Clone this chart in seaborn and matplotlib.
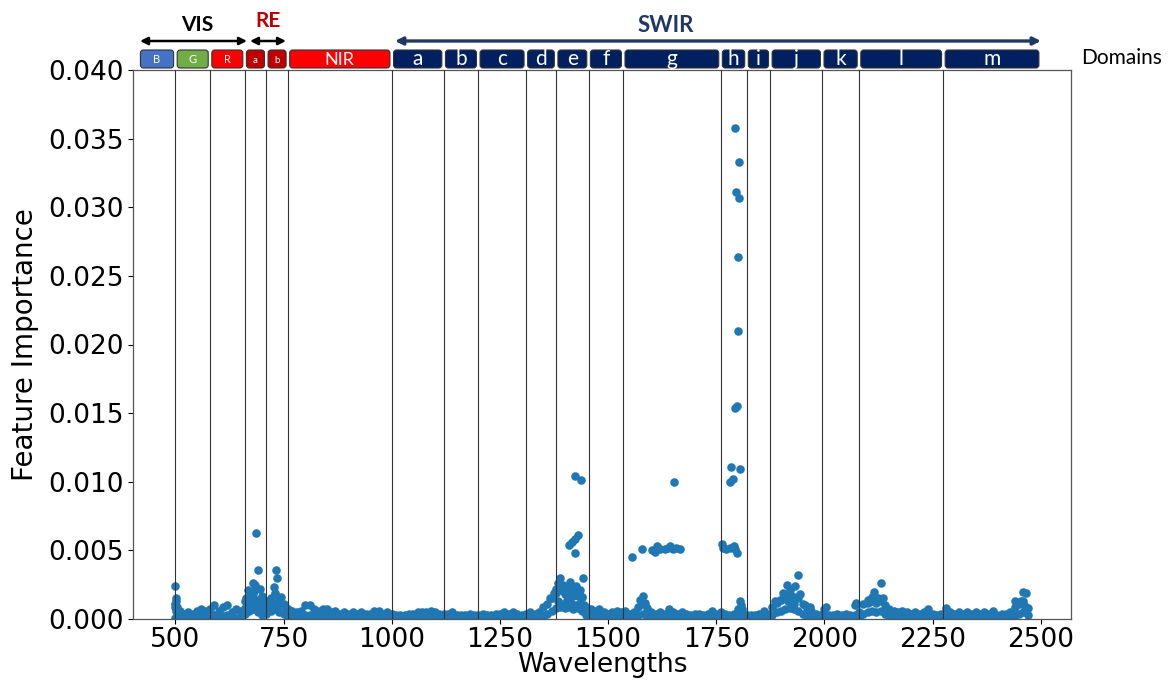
import numpy as np
import pandas as pd
import seaborn as sns
import matplotlib.pyplot as plt
from matplotlib.patches import FancyBboxPatch, FancyArrowPatch
from matplotlib.transforms import IdentityTransform
from matplotlib.ticker import FormatStrFormatter

# dense baseline band, read every 10 nm (top of band and bottom of band)
band_wl = [
    500, 510, 520, 530, 540, 550, 560, 570, 580, 590,
    600, 610, 620, 630, 640, 650, 660, 670, 680, 690,
    700, 710, 720, 730, 740, 750, 760, 770, 780, 790,
    800, 810, 820, 830, 840, 850, 860, 870, 880, 890,
    900, 910, 920, 930, 940, 950, 960, 970, 980, 990,
    1000, 1010, 1020, 1030, 1040, 1050, 1060, 1070, 1080, 1090,
    1100, 1110, 1120, 1130, 1140, 1150, 1160, 1170, 1180, 1190,
    1200, 1210, 1220, 1230, 1240, 1250, 1260, 1270, 1280, 1290,
    1300, 1310, 1320, 1330, 1340, 1350, 1360, 1370, 1380, 1390,
    1400, 1410, 1420, 1430, 1440, 1450, 1460, 1470, 1480, 1490,
    1500, 1510, 1520, 1530, 1540, 1550, 1560, 1570, 1580, 1590,
    1600, 1610, 1620, 1630, 1640, 1650, 1660, 1670, 1680, 1690,
    1700, 1710, 1720, 1730, 1740, 1750, 1760, 1770, 1780, 1790,
    1800, 1810, 1820, 1830, 1840, 1850, 1860, 1870, 1880, 1890,
    1900, 1910, 1920, 1930, 1940, 1950, 1960, 1970, 1980, 1990,
    2000, 2010, 2020, 2030, 2040, 2050, 2060, 2070, 2080, 2090,
    2100, 2110, 2120, 2130, 2140, 2150, 2160, 2170, 2180, 2190,
    2200, 2210, 2220, 2230, 2240, 2250, 2260, 2270, 2280, 2290,
    2300, 2310, 2320, 2330, 2340, 2350, 2360, 2370, 2380, 2390,
    2400, 2410, 2420, 2430, 2440, 2450, 2460, 2470,
]
band_top = [
    0.0009, 0.0006, 0.0004, 0.0005, 0.0004, 0.0006, 0.0007, 0.0006, 0.0007, 0.0010,
    0.0006, 0.0009, 0.0010, 0.0005, 0.0007, 0.0006, 0.0013, 0.0016, 0.0018, 0.0014,
    0.0009, 0.0013, 0.0015, 0.0018, 0.0013, 0.0011, 0.0007, 0.0006, 0.0005, 0.0006,
    0.0010, 0.0010, 0.0007, 0.0006, 0.0007, 0.0007, 0.0005, 0.0006, 0.0004, 0.0005,
    0.0004, 0.0005, 0.0004, 0.0005, 0.0004, 0.0004, 0.0006, 0.0006, 0.0004, 0.0005,
    0.0004, 0.0003, 0.0003, 0.0003, 0.0004, 0.0004, 0.0005, 0.0005, 0.0005, 0.0006,
    0.0005, 0.0004, 0.0004, 0.0004, 0.0005, 0.0003, 0.0003, 0.0003, 0.0004, 0.0003,
    0.0003, 0.0004, 0.0003, 0.0003, 0.0004, 0.0004, 0.0005, 0.0004, 0.0005, 0.0004,
    0.0003, 0.0004, 0.0005, 0.0004, 0.0005, 0.0009, 0.0011, 0.0015, 0.0019, 0.0021,
    0.0018, 0.0020, 0.0017, 0.0019, 0.0016, 0.0009, 0.0007, 0.0006, 0.0007, 0.0005,
    0.0004, 0.0005, 0.0006, 0.0005, 0.0006, 0.0004, 0.0005, 0.0009, 0.0011, 0.0008,
    0.0005, 0.0004, 0.0005, 0.0004, 0.0007, 0.0005, 0.0004, 0.0005, 0.0004, 0.0003,
    0.0004, 0.0004, 0.0003, 0.0004, 0.0006, 0.0004, 0.0005, 0.0004, 0.0003, 0.0004,
    0.0007, 0.0005, 0.0003, 0.0003, 0.0003, 0.0004, 0.0006, 0.0004, 0.0009, 0.0012,
    0.0014, 0.0017, 0.0018, 0.0016, 0.0015, 0.0011, 0.0008, 0.0006, 0.0004, 0.0003,
    0.0007, 0.0003, 0.0003, 0.0004, 0.0003, 0.0004, 0.0003, 0.0010, 0.0005, 0.0011,
    0.0012, 0.0013, 0.0012, 0.0013, 0.0010, 0.0007, 0.0006, 0.0005, 0.0006, 0.0005,
    0.0004, 0.0005, 0.0004, 0.0005, 0.0007, 0.0004, 0.0003, 0.0004, 0.0008, 0.0005,
    0.0004, 0.0005, 0.0004, 0.0005, 0.0004, 0.0005, 0.0004, 0.0005, 0.0004, 0.0006,
    0.0003, 0.0004, 0.0004, 0.0005, 0.0009, 0.0011, 0.0013, 0.0008,
]
band_low = [
    0.0001, 0.0001, 0.0000, 0.0001, 0.0001, 0.0001, 0.0002, 0.0001, 0.0001, 0.0003,
    0.0001, 0.0002, 0.0003, 0.0001, 0.0001, 0.0001, 0.0004, 0.0006, 0.0007, 0.0005,
    0.0003, 0.0004, 0.0006, 0.0007, 0.0005, 0.0004, 0.0002, 0.0001, 0.0001, 0.0001,
    0.0003, 0.0003, 0.0002, 0.0001, 0.0002, 0.0002, 0.0001, 0.0001, 0.0001, 0.0001,
    0.0001, 0.0001, 0.0000, 0.0001, 0.0001, 0.0000, 0.0001, 0.0001, 0.0001, 0.0001,
    0.0001, 0.0000, 0.0001, 0.0000, 0.0001, 0.0001, 0.0001, 0.0001, 0.0001, 0.0001,
    0.0001, 0.0001, 0.0000, 0.0001, 0.0001, 0.0000, 0.0001, 0.0000, 0.0001, 0.0000,
    0.0000, 0.0001, 0.0001, 0.0000, 0.0001, 0.0001, 0.0001, 0.0001, 0.0001, 0.0001,
    0.0000, 0.0001, 0.0001, 0.0001, 0.0001, 0.0002, 0.0004, 0.0006, 0.0008, 0.0009,
    0.0008, 0.0009, 0.0007, 0.0008, 0.0006, 0.0003, 0.0002, 0.0001, 0.0002, 0.0001,
    0.0001, 0.0001, 0.0001, 0.0001, 0.0001, 0.0001, 0.0001, 0.0003, 0.0004, 0.0002,
    0.0001, 0.0001, 0.0001, 0.0001, 0.0002, 0.0001, 0.0001, 0.0001, 0.0001, 0.0000,
    0.0001, 0.0001, 0.0000, 0.0001, 0.0001, 0.0001, 0.0001, 0.0001, 0.0000, 0.0001,
    0.0002, 0.0001, 0.0000, 0.0000, 0.0001, 0.0001, 0.0001, 0.0001, 0.0003, 0.0005,
    0.0006, 0.0007, 0.0008, 0.0007, 0.0006, 0.0004, 0.0002, 0.0001, 0.0001, 0.0000,
    0.0002, 0.0000, 0.0001, 0.0001, 0.0000, 0.0001, 0.0001, 0.0003, 0.0001, 0.0004,
    0.0005, 0.0006, 0.0005, 0.0006, 0.0004, 0.0002, 0.0001, 0.0001, 0.0001, 0.0001,
    0.0001, 0.0001, 0.0001, 0.0001, 0.0002, 0.0001, 0.0000, 0.0001, 0.0002, 0.0001,
    0.0001, 0.0001, 0.0001, 0.0001, 0.0001, 0.0001, 0.0001, 0.0001, 0.0001, 0.0002,
    0.0000, 0.0001, 0.0001, 0.0001, 0.0003, 0.0004, 0.0005, 0.0003,
]

# points standing out above the band
peak_wl = [
    500, 501, 502, 500, 503, 501, 504,
    686, 690, 732, 735, 680, 684, 668, 695, 675, 700, 664, 690, 705,
    727, 730, 745, 740, 725, 715, 660, 672, 678, 685, 737, 755,
    1424, 1437, 1431, 1424, 1417, 1410, 1424, 1389, 1412, 1443,
    1385, 1395, 1405, 1415, 1425, 1435, 1380, 1375, 1400, 1420,
    1430, 1440, 1365, 1385, 1395, 1405, 1415, 1425, 1435, 1445,
    1555, 1578, 1601, 1609, 1613, 1620, 1632, 1638, 1643, 1650,
    1658, 1666, 1652, 1581, 1574, 1585,
    1794, 1803, 1796, 1803, 1801, 1801, 1794, 1798, 1785, 1805,
    1782, 1789, 1763, 1766, 1772, 1782, 1790, 1794, 1798, 1805,
    1807, 1810,
    1939, 1913, 1932, 1921, 1905, 1944, 1897, 1886, 1955, 1967,
    2004, 1925, 1915, 1930,
    2073, 2115, 2131, 2136, 2100, 2110, 2125,
    2460, 2466, 2441, 2455, 2469, 2462,
]
peak_fi = [
    0.0024, 0.0015, 0.0013, 0.0011, 0.0009, 0.0006, 0.0003,
    0.0063, 0.0036, 0.0036, 0.0030, 0.0026, 0.0025, 0.0021, 0.0022, 0.0019, 0.0017, 0.0015, 0.0010, 0.0012,
    0.0023, 0.0019, 0.0016, 0.0014, 0.0011, 0.0008, 0.0008, 0.0011, 0.0014, 0.0021, 0.0009, 0.0008,
    0.0104, 0.0101, 0.0061, 0.0058, 0.0056, 0.0054, 0.0048, 0.0030, 0.0027, 0.0030,
    0.0026, 0.0025, 0.0023, 0.0022, 0.0024, 0.0021, 0.0022, 0.0019, 0.0020, 0.0019,
    0.0017, 0.0016, 0.0015, 0.0013, 0.0011, 0.0014, 0.0012, 0.0010, 0.0012, 0.0010,
    0.0045, 0.0051, 0.0050, 0.0049, 0.0053, 0.0051, 0.0051, 0.0052, 0.0053, 0.0051,
    0.0052, 0.0051, 0.0100, 0.0017, 0.0014, 0.0012,
    0.0358, 0.0333, 0.0311, 0.0307, 0.0264, 0.0210, 0.0154, 0.0155, 0.0111, 0.0109,
    0.0100, 0.0102, 0.0055, 0.0052, 0.0051, 0.0052, 0.0053, 0.0051, 0.0048, 0.0013,
    0.0010, 0.0007,
    0.0032, 0.0025, 0.0024, 0.0021, 0.0019, 0.0018, 0.0014, 0.0013, 0.0010, 0.0009,
    0.0009, 0.0016, 0.0013, 0.0011,
    0.0012, 0.0020, 0.0026, 0.0015, 0.0014, 0.0016, 0.0015,
    0.0020, 0.0019, 0.0013, 0.0013, 0.0008, 0.0010,
]

# spectral domains drawn above the plot
boundaries = [500, 580, 660, 710, 760, 1000, 1120, 1200, 1310, 1380,
              1455, 1535, 1760, 1820, 1875, 1995, 2080, 2275]
domain_edges = [415] + boundaries + [2500]
domain_names = ['B', 'G', 'R', 'a', 'b', 'NIR', 'a', 'b', 'c', 'd', 'e',
                'f', 'g', 'h', 'i', 'j', 'k', 'l', 'm']
domain_colors = ['#4472C4', '#70AD47', '#FF0000', '#C00000', '#C00000', '#FF0000'] + ['#002060'] * 13
domain_sizes = [8, 8, 8, 7, 7, 13] + [15] * 13

df = pd.DataFrame({
    'Wavelengths': band_wl + band_wl + peak_wl,
    'Feature Importance': band_top + band_low + peak_fi,
})

sns.set_style('ticks')
W, H = 1169, 682
fig = plt.figure(figsize=(W / 100, H / 100), dpi=100)
ax = fig.add_axes([133 / W, 1 - 619 / H, (1071 - 133) / W, (619 - 70) / H])

sns.scatterplot(data=df, x='Wavelengths', y='Feature Importance', ax=ax,
                s=38, color='#1f77b4', linewidth=0, zorder=2)
for b in boundaries:
    ax.axvline(b, color='#333333', lw=0.8, zorder=3)

ax.set_xlim(402, 2570)
ax.set_ylim(0, 0.04)
ax.set_xticks(range(500, 2501, 250))
ax.set_yticks(np.arange(0, 0.0401, 0.005))
ax.yaxis.set_major_formatter(FormatStrFormatter('%.3f'))
ax.tick_params(labelsize=19, colors='black')
ax.tick_params(axis='x', pad=2.5)
for sp in ax.spines.values():
    sp.set_color('#555555')
    sp.set_linewidth(0.9)
ax.set_xlabel('Wavelengths', fontsize=19, color='black')
ax.set_ylabel('Feature Importance', fontsize=20, color='black')
ax.xaxis.set_label_coords(0.5, -0.061)
ax.yaxis.set_label_coords(-0.100, 0.5)

# domain boxes, in pixel coordinates
idt = IdentityTransform()


def px(x):
    return ax.transData.transform((x, 0))[0]


for i, name in enumerate(domain_names):
    x0 = px(domain_edges[i]) + 1.8
    x1 = px(domain_edges[i + 1]) - 1.8
    box = FancyBboxPatch((x0, H - 68), x1 - x0, 18,
                         boxstyle='round,pad=0,rounding_size=3', transform=idt,
                         fc=domain_colors[i], ec='#333333', lw=0.8)
    fig.add_artist(box)
    base = 65 if domain_sizes[i] > 10 else 63
    t = fig.text((x0 + x1) / 2, H - base, name, transform=idt, color='white',
                 fontsize=domain_sizes[i], family='Lato', ha='center', va='baseline')
    t.set_clip_path(box)

# region arrows and labels
for xa, xb, col, lw in [(140, 247, 'black', 1.8), (250, 286, 'black', 1.8),
                        (395, 1041, '#1F3864', 2.4)]:
    arr = FancyArrowPatch((xa, H - 41), (xb, H - 41), transform=idt,
                          arrowstyle='<|-|>', mutation_scale=11, color=col, lw=lw,
                          shrinkA=0, shrinkB=0)
    fig.add_artist(arr)

fig.text(197, H - 25, 'VIS', transform=idt, fontsize=15, fontweight='bold',
         family='Lato', color='black', ha='center', va='center')
fig.text(268, H - 21, 'RE', transform=idt, fontsize=15, fontweight='bold',
         family='Lato', color='#C00000', ha='center', va='center')
fig.text(666, H - 25, 'SWIR', transform=idt, fontsize=16, fontweight='bold',
         family='Lato', color='#1F3864', ha='center', va='center')
fig.text(1081, H - 58, 'Domains', transform=idt, fontsize=15,
         family='Lato', color='black', ha='left', va='center')

plt.savefig('out.png', dpi=100)
